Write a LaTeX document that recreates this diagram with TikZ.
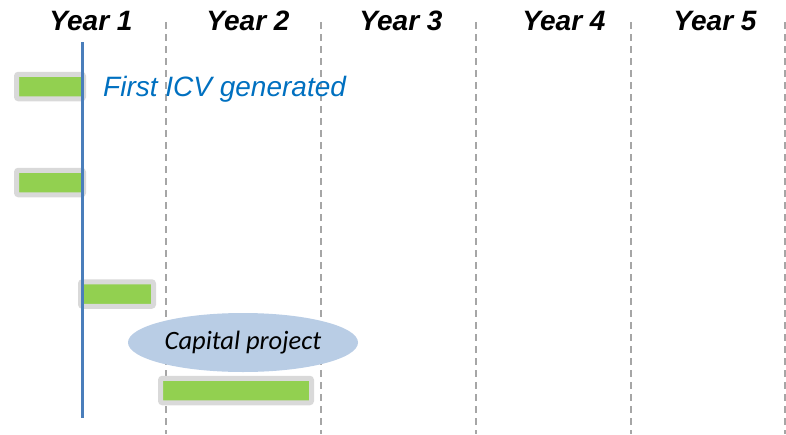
\documentclass[tikz,border=0pt]{standalone}
\usepackage{fontspec}
\setmainfont{Liberation Sans}
\newfontfamily\calib{Carlito}
\usetikzlibrary{shapes.geometric}
\definecolor{bargreen}{HTML}{92D050}
\definecolor{bargray}{HTML}{D9D9D9}
\definecolor{gridgray}{HTML}{A6A6A6}
\definecolor{lineblue}{HTML}{4A7EBB}
\definecolor{textblue}{HTML}{0070C0}
\definecolor{ellfill}{HTML}{B9CDE5}
\tikzset{
  yearlbl/.style={font=\fontsize{28}{30}\selectfont\bfseries\itshape, anchor=base, inner sep=0pt},
  gridline/.style={draw=gridgray, line width=1.5pt, dash pattern=on 7pt off 5pt},
  ganttbar/.style={fill=bargreen, draw=bargray, line width=5pt, rounded corners=2pt, inner sep=0pt, minimum height=24.5pt},
}
\begin{document}
\begin{tikzpicture}[x=1pt,y=-1pt]
\useasboundingbox (0,0) rectangle (786,434);
% year labels
\node[yearlbl] (y1) at (91,30) {Year 1};
\node[yearlbl] (y2) at (248,30) {Year 2};
\node[yearlbl] (y3) at (401,30) {Year 3};
\node[yearlbl] (y4) at (564,30) {Year 4};
\node[yearlbl] (y5) at (715,30) {Year 5};
% grid lines
\foreach \gx/\nm in {166/a,321/b,476/c,631/d,785/e}{
  \coordinate (g\nm t) at (\gx,22);
  \coordinate (g\nm b) at (\gx,434);
  \draw[gridline] (g\nm t) -- (g\nm b);
}
% capital project ellipse
\node[ellipse, fill=ellfill, minimum width=230pt, minimum height=59pt, inner sep=0pt,
      font=\calib\fontsize{26.5}{28}\selectfont\itshape] (cap) at (243,342.5) {Capital project};
% bars
\node[ganttbar, minimum width=67pt] (b1) at (50,86.5) {};
\node[ganttbar, minimum width=67pt] (b2) at (50,182.5) {};
\node[ganttbar, minimum width=73pt] (b3) at (117,294) {};
\node[ganttbar, minimum width=151pt] (b4) at (236,390.5) {};
% blue milestone line
\coordinate (mt) at (82.5,42);
\coordinate (mb) at (82.5,418);
\draw[lineblue, line width=3pt] (mt) -- (mb);
% label
\node[font=\fontsize{28}{30}\selectfont\itshape, text=textblue, anchor=base west, inner sep=0pt] (icv) at (103,96) {First ICV generated};
\end{tikzpicture}
\end{document}
